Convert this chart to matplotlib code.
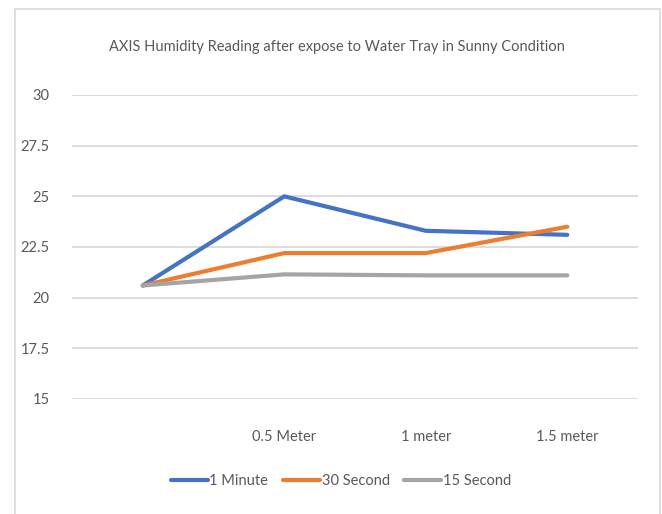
import matplotlib
matplotlib.use('Agg')
import matplotlib.pyplot as plt
from matplotlib.patches import Rectangle

categories = ['', '0.5 Meter', '1 meter', '1.5 meter']
one_minute = [20.6, 25.0, 23.3, 23.1]
thirty_second = [20.6, 22.2, 22.2, 23.5]
fifteen_second = [20.6, 21.15, 21.1, 21.1]
series_names = ['1 Minute', '30 Second', '15 Second']
y_ticks = [15, 17.5, 20, 22.5, 25, 27.5, 30]

colors = ['#4472C4', '#ED7D31', '#A5A5A5']
text_color = '#595959'

plt.rcParams['font.family'] = ['Lato', 'DejaVu Sans']

fig = plt.figure(figsize=(6.62, 5.14), dpi=100)
W, H = 662, 514

# chart border like an Excel chart area
fig.patches.append(Rectangle((15 / W, -0.05), 645 / W, 1.05 - 9 / H, transform=fig.transFigure,
                             fill=False, edgecolor='#D9D9D9', linewidth=1.2))

ax = fig.add_axes([72 / W, (H - 399) / H, 566 / W, 304 / H])
x = range(len(categories))
for vals, name, c in zip([one_minute, thirty_second, fifteen_second], series_names, colors):
    ax.plot(x, vals, color=c, linewidth=3, label=name, solid_capstyle='round')

ax.set_xlim(-0.5, len(categories) - 0.5)
ax.set_ylim(15, 30)
ax.set_yticks(y_ticks)
ax.set_yticklabels([f'{v:g}' for v in y_ticks])
ax.set_xticks(list(x))
ax.set_xticklabels(categories)
ax.grid(axis='y', color='#D9D9D9', linewidth=1.3)
ax.set_axisbelow(True)
for s in ax.spines.values():
    s.set_visible(False)
ax.tick_params(axis='both', length=0, colors=text_color, labelsize=10.5)
ax.tick_params(axis='y', pad=16)
ax.tick_params(axis='x', pad=22)

fig.text(337 / W, 1 - 47 / H, 'AXIS Humidity Reading after expose to Water Tray in Sunny Condition',
         ha='center', va='center', fontsize=10.5, color=text_color)

fig.legend(loc='center', bbox_to_anchor=(341 / W, 1 - 481 / H), ncol=3, frameon=False,
           fontsize=10.5, labelcolor=text_color, handlelength=2.55, handletextpad=0.1,
           columnspacing=1.0)

fig.savefig('out.png', dpi=100)
